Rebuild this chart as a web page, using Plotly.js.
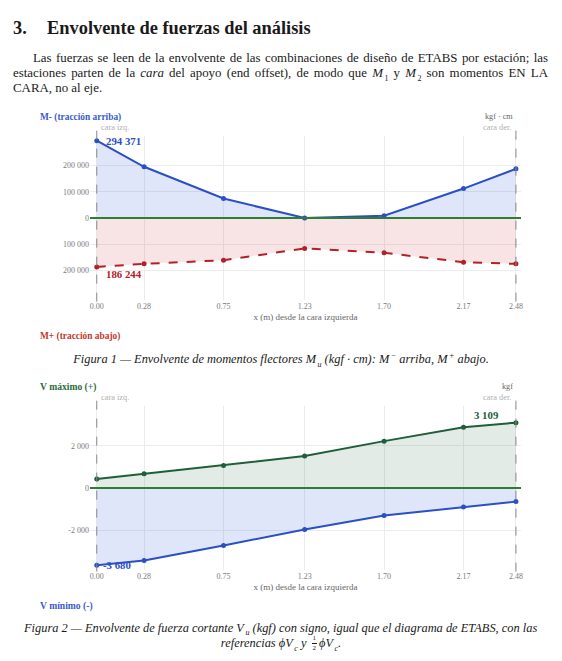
<!DOCTYPE html>
<html>
<head>
<meta charset="utf-8">
<script src="https://cdn.plot.ly/plotly-3.0.1.min.js"></script>
<style>
  html, body { margin:0; padding:0; background:#fff; width:562px; height:661px; overflow:hidden; }
  body { position:relative; font-family:"Liberation Serif", "DejaVu Serif", serif; color:#1a1a1a; }
  .abs { position:absolute; }
  .h { font-weight:bold; font-size:18.4px; line-height:20px; white-space:nowrap; }
  .p { font-size:12.9px; line-height:15px; }
  .j { text-align:justify; text-align-last:justify; white-space:nowrap; }
  .cap { font-style:italic; font-size:12.4px; line-height:14px; white-space:nowrap; }
  .cap sub, .cap sup, .p sub { font-size:8px; }
  .sb { margin-left:1.5px; }
  .frac { display:inline-flex; flex-direction:column; align-items:center; vertical-align:middle; font-size:7px; line-height:9px; font-style:normal; margin:0 2px 0 2px; position:relative; top:-1px; }
  .frac .n { border-bottom:0.7px solid #1a1a1a; padding:0 1px; }
  #c1, #c2 { position:absolute; left:0; width:562px; height:240px; }
</style>
</head>
<body>
<div class="abs h" style="left:13px; top:18px;">3.</div>
<div class="abs h" style="left:47px; top:18px;">Envolvente de fuerzas del análisis</div>

<div class="abs p j" style="left:33px; top:51px; width:515px;">Las fuerzas se leen de la envolvente de las combinaciones de diseño de ETABS por estación; las</div>
<div class="abs p j" style="left:13px; top:66px; width:535px;">estaciones parten de la <i>cara</i> del apoyo (end offset), de modo que <i>M</i><sub class="sb">1</sub> y <i>M</i><sub class="sb">2</sub> son momentos EN LA</div>
<div class="abs p" style="left:13px; top:81px;">CARA, no al eje.</div>

<div id="c1" style="top:105px;"></div>
<div class="abs cap" style="left:0; width:562px; text-align:center; top:349px;">Figura 1 — Envolvente de momentos flectores <i>M</i><sub class="sb">u</sub> (kgf · cm): <i>M</i><sup class="sb">−</sup> arriba, <i>M</i><sup class="sb">+</sup> abajo.</div>

<div id="c2" style="top:375px;"></div>
<div class="abs cap j" style="left:24px; width:513px; top:621px;">Figura 2 — Envolvente de fuerza cortante <i>V</i><sub class="sb">u</sub> (kgf) con signo, igual que el diagrama de ETABS, con las</div>
<div class="abs cap" style="left:0; width:562px; text-align:center; top:635px;">referencias <i>ϕV</i><sub class="sb">c</sub> y <span class="frac"><span class="n">1</span><span>2</span></span><i>ϕV</i><sub class="sb">c</sub>.</div>

<script>
// ---- data ----
const stations = [0.00, 0.28, 0.75, 1.23, 1.70, 2.17, 2.48];
const stationLabels = ['0.00', '0.28', '0.75', '1.23', '1.70', '2.17', '2.48'];
const mNeg = [294371, 195000, 74000, 0, 9000, 112000, 187000];      // M- (tracción arriba), kgf·cm
const mPos = [186244, 174500, 160500, 116000, 132500, 168000, 174500]; // M+ (tracción abajo), kgf·cm
const vMax = [427, 680, 1075, 1518, 2229, 2893, 3109];               // V máximo (+), kgf
const vMin = [-3680, -3447, -2735, -1976, -1312, -901, -648];        // V mínimo (-), kgf
const mTickVals = [-200000, -100000, 0, 100000, 200000];
const mTickText = ['200 000', '100 000', '0', '100 000', '200 000'];
const vTickVals = [-2000, 0, 2000];
const vTickText = ['-2 000', '0', '2 000'];

const FONT = '"Liberation Serif", "DejaVu Serif", serif';
const BLUE = '#2a4fc6', RED = '#b3202a', GREEN = '#2e7d32', DGREEN = '#1f5e38';
const GRID = '#ececec', TICK = '#7a7a7a', LIGHT = '#b0b0b0';
const fmt = v => Math.round(Math.abs(v)).toString().replace(/\B(?=(\d{3})+(?!\d))/g, ' ');

function baseLayout(yMax, tv, tt) {
  return {
    width: 562, height: 240,
    margin: {l: 90, r: 41, t: 31, b: 45},
    paper_bgcolor: '#fff', plot_bgcolor: '#fff',
    showlegend: false,
    font: {family: FONT, size: 8, color: TICK},
    xaxis: {
      range: [-0.04, 2.51], tickvals: stations, ticktext: stationLabels,
      showgrid: true, gridcolor: GRID, gridwidth: 1, zeroline: false, showline: false,
      ticks: '', tickfont: {family: FONT, size: 8, color: TICK},
      title: {text: 'x (m) desde la cara izquierda', font: {family: FONT, size: 9, color: '#666'}, standoff: 3}
    },
    yaxis: {
      range: [-yMax, yMax], tickvals: tv, ticktext: tt,
      showgrid: true, gridcolor: GRID, gridwidth: 1, zeroline: false, showline: false,
      ticks: '', tickfont: {family: FONT, size: 8, color: TICK}
    },
    shapes: [
      {type: 'line', xref: 'x', yref: 'paper', x0: 0, x1: 0, y0: -0.01, y1: 1.035,
       line: {color: '#888', width: 1, dash: 'dash'}, layer: 'above'},
      {type: 'line', xref: 'x', yref: 'paper', x0: 2.48, x1: 2.48, y0: -0.01, y1: 1.035,
       line: {color: '#888', width: 1, dash: 'dash'}, layer: 'above'},
      {type: 'line', xref: 'paper', yref: 'y', x0: 0, x1: 1, y0: 0, y1: 0,
       line: {color: GREEN, width: 2}, layer: 'above'}
    ],
    annotations: []
  };
}

const cfg = {staticPlot: true, displayModeBar: false};

// ---- Chart 1 : moments ----
const mMax = 1.06 * Math.max(Math.max(...mNeg), Math.max(...mPos));
const l1 = baseLayout(mMax, mTickVals, mTickText);
l1.annotations = [
  {xref: 'paper', yref: 'paper', x: -0.12, y: 1.11, xanchor: 'left', yanchor: 'middle', showarrow: false,
   text: '<b>M- (tracción arriba)</b>', font: {family: FONT, size: 9.4, color: '#3b5cc8'}},
  {xref: 'paper', yref: 'paper', x: -0.12, y: -0.225, xanchor: 'left', yanchor: 'middle', showarrow: false,
   text: '<b>M+ (tracción abajo)</b>', font: {family: FONT, size: 9.4, color: '#c0392b'}},
  {xref: 'paper', yref: 'paper', x: 0.985, y: 1.118, xanchor: 'right', yanchor: 'middle', showarrow: false,
   text: 'kgf · cm', font: {family: FONT, size: 8.2, color: '#666'}},
  {xref: 'x', yref: 'paper', x: 0, y: 1.05, xanchor: 'left', yanchor: 'middle', xshift: 2, showarrow: false,
   text: 'cara izq.', font: {family: FONT, size: 8.4, color: LIGHT}},
  {xref: 'x', yref: 'paper', x: 2.48, y: 1.05, xanchor: 'right', yanchor: 'middle', xshift: -3, showarrow: false,
   text: 'cara der.', font: {family: FONT, size: 8.4, color: LIGHT}},
  {xref: 'x', yref: 'y', x: stations[0], y: mNeg[0], xanchor: 'left', yanchor: 'middle', xshift: 7, yshift: 0, showarrow: false,
   text: '<b>' + fmt(mNeg[0]) + '</b>', font: {family: FONT, size: 10.8, color: BLUE}},
  {xref: 'x', yref: 'y', x: stations[0], y: -mPos[0], xanchor: 'left', yanchor: 'middle', xshift: 7, yshift: -7, showarrow: false,
   text: '<b>' + fmt(mPos[0]) + '</b>', font: {family: FONT, size: 10.8, color: RED}}
];
Plotly.newPlot('c1', [
  {x: stations, y: mNeg, type: 'scatter', mode: 'lines+markers', fill: 'tozeroy',
   fillcolor: 'rgba(60,100,220,0.16)', line: {color: BLUE, width: 2}, marker: {color: BLUE, size: 5}},
  {x: stations, y: mPos.map(v => -v), type: 'scatter', mode: 'lines+markers', fill: 'tozeroy',
   fillcolor: 'rgba(200,50,50,0.13)', line: {color: RED, width: 2, dash: 'dash'}, marker: {color: RED, size: 5}}
], l1, cfg);

// ---- Chart 2 : shear ----
const vLim = 1.06 * Math.max(Math.max(...vMax), Math.max(...vMin.map(Math.abs)));
const l2 = baseLayout(vLim, vTickVals, vTickText);
l2.annotations = [
  {xref: 'paper', yref: 'paper', x: -0.12, y: 1.118, xanchor: 'left', yanchor: 'middle', showarrow: false,
   text: '<b>V máximo (+)</b>', font: {family: FONT, size: 9.6, color: '#2e6b3a'}},
  {xref: 'paper', yref: 'paper', x: -0.12, y: -0.22, xanchor: 'left', yanchor: 'middle', showarrow: false,
   text: '<b>V mínimo (-)</b>', font: {family: FONT, size: 9.6, color: '#3b5cc8'}},
  {xref: 'paper', yref: 'paper', x: 0.985, y: 1.12, xanchor: 'right', yanchor: 'middle', showarrow: false,
   text: 'kgf', font: {family: FONT, size: 8.2, color: '#666'}},
  {xref: 'x', yref: 'paper', x: 0, y: 1.05, xanchor: 'left', yanchor: 'middle', xshift: 2, showarrow: false,
   text: 'cara izq.', font: {family: FONT, size: 8.4, color: LIGHT}},
  {xref: 'x', yref: 'paper', x: 2.48, y: 1.05, xanchor: 'right', yanchor: 'middle', xshift: -3, showarrow: false,
   text: 'cara der.', font: {family: FONT, size: 8.4, color: LIGHT}},
  {xref: 'x', yref: 'y', x: stations[6], y: vMax[6], xanchor: 'right', yanchor: 'middle', xshift: -15, yshift: 8, showarrow: false,
   text: '<b>' + fmt(vMax[6]) + '</b>', font: {family: FONT, size: 10.8, color: DGREEN}},
  {xref: 'x', yref: 'y', x: stations[0], y: vMin[0], xanchor: 'left', yanchor: 'middle', xshift: 4, yshift: 0, showarrow: false,
   text: '<b>-' + fmt(vMin[0]) + '</b>', font: {family: FONT, size: 10.8, color: BLUE}}
];
Plotly.newPlot('c2', [
  {x: stations, y: vMax, type: 'scatter', mode: 'lines+markers', fill: 'tozeroy',
   fillcolor: 'rgba(40,100,60,0.13)', line: {color: DGREEN, width: 2}, marker: {color: DGREEN, size: 5}},
  {x: stations, y: vMin, type: 'scatter', mode: 'lines+markers', fill: 'tozeroy',
   fillcolor: 'rgba(60,100,220,0.16)', line: {color: BLUE, width: 2}, marker: {color: BLUE, size: 5}}
], l2, cfg);
</script>
</body>
</html>
